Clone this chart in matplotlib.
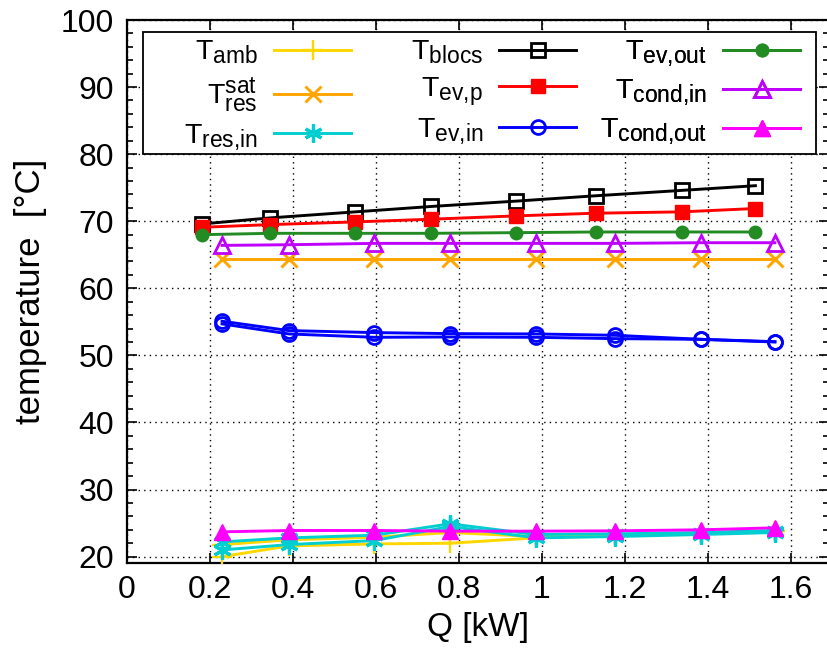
import matplotlib
matplotlib.use("Agg")
import matplotlib.pyplot as plt
from matplotlib.ticker import MultipleLocator
from matplotlib.patches import Rectangle
try:
    import matplotlib._mathtext as _mt
    _mt.SHRINK_FACTOR = 0.8
except Exception:
    pass

plt.rcParams['font.family'] = ['Liberation Sans', 'DejaVu Sans']
plt.rcParams['mathtext.fontset'] = 'custom'
plt.rcParams['mathtext.rm'] = 'Liberation Sans'
plt.rcParams['mathtext.it'] = 'Liberation Sans'
plt.rcParams['mathtext.bf'] = 'Liberation Sans'

# ---- data ----
q_a = [0.182, 0.346, 0.551, 0.733, 0.938, 1.130, 1.337, 1.514]
q_b = [0.230, 0.391, 0.597, 0.779, 0.985, 1.176, 1.382, 1.561]

t_amb_1 = [21.8, 22.5, 22.9, 23.6, 23.0, 23.2, 23.5, 23.8]
t_amb_2 = [20.0, 21.6, 21.9, 22.0, 22.8, 23.1, 23.4, 23.8]
t_res_sat = [64.3, 64.3, 64.3, 64.3, 64.3, 64.3, 64.3, 64.3]
t_res_in_1 = [22.2, 22.8, 23.2, 24.9, 23.3, 23.4, 23.6, 23.9]
t_res_in_2 = [21.0, 21.8, 22.4, 24.5, 22.8, 23.0, 23.3, 23.6]
t_blocs = [69.6, 70.5, 71.4, 72.2, 73.0, 73.8, 74.6, 75.3]
t_ev_p = [69.1, 69.5, 69.9, 70.3, 70.8, 71.2, 71.4, 71.9]
t_ev_in_1 = [55.1, 53.7, 53.4, 53.25, 53.2, 53.0, 52.4, 52.05]
t_ev_in_2 = [54.7, 53.2, 52.7, 52.75, 52.7, 52.5, 52.4, 52.0]
t_ev_out = [68.0, 68.2, 68.2, 68.2, 68.3, 68.4, 68.4, 68.4]
t_cond_in = [66.4, 66.5, 66.7, 66.7, 66.7, 66.7, 66.8, 66.8]
t_cond_out = [23.7, 23.9, 23.9, 23.8, 23.8, 23.85, 24.0, 24.3]

labels = [r'T$_{\mathrm{amb}}$', r'T$^{\mathrm{sat}}_{\mathrm{res}}$', r'T$_{\mathrm{res{,}in}}$',
          r'T$_{\mathrm{blocs}}$', r'T$_{\mathrm{ev{,}p}}$', r'T$_{\mathrm{ev{,}in}}$',
          r'T$_{\mathrm{ev{,}out}}$', r'T$_{\mathrm{cond{,}in}}$', r'T$_{\mathrm{cond{,}out}}$']
xticks = [0, 0.2, 0.4, 0.6, 0.8, 1.0, 1.2, 1.4, 1.6]
xticklabels = ['0', '0.2', '0.4', '0.6', '0.8', '1', '1.2', '1.4', '1.6']
yticks = [20, 30, 40, 50, 60, 70, 80, 90, 100]

FS = 23
LFS = 20.5
fig = plt.figure(figsize=(8.27, 6.49), dpi=100)
AX_L, AX_R, AX_T, AX_B = 126.5, 828.5, 20.0, 562.7
ax = fig.add_axes([AX_L / 827, (649 - AX_B) / 649, (AX_R - AX_L) / 827, (AX_B - AX_T) / 649])


def fx(px):
    return (px - AX_L) / (AX_R - AX_L)


def fy(py):
    return (AX_B - py) / (AX_B - AX_T)


lw = 2.1
mew = 1.7
h = []
h += ax.plot(q_b, t_amb_1, color='#ffd700', lw=lw, marker='+', ms=14, mew=mew, label=labels[0], zorder=3)
ax.plot(q_b, t_amb_2, color='#ffd700', lw=lw, marker='+', ms=14, mew=mew, zorder=3)
h += ax.plot(q_b, t_res_sat, color='#ffa500', lw=lw, marker='x', ms=11, mew=mew + 0.4, label=labels[1], zorder=3)
h += ax.plot(q_b, t_res_in_1, color='#00ced1', lw=lw, marker=(6, 2, 0), ms=13, mew=mew + 0.6, label=labels[2], zorder=3)
ax.plot(q_b, t_res_in_2, color='#00ced1', lw=lw, marker=(6, 2, 0), ms=13, mew=mew + 0.6, zorder=3)
h += ax.plot(q_a, t_blocs, color='black', lw=lw, marker='s', ms=10, mfc='none', mew=mew + 0.3, label=labels[3], zorder=3)
h += ax.plot(q_a, t_ev_p, color='#ff0000', lw=lw, marker='s', ms=10, label=labels[4], zorder=3)
h += ax.plot(q_b, t_ev_in_1, color='#0000ff', lw=lw, marker='o', ms=10, mfc='none', mew=mew + 0.3, label=labels[5], zorder=3)
ax.plot(q_b, t_ev_in_2, color='#0000ff', lw=lw, marker='o', ms=10, mfc='none', mew=mew + 0.3, zorder=3)
h += ax.plot(q_a, t_ev_out, color='#228b22', lw=lw, marker='o', ms=9, label=labels[6], zorder=3)
h += ax.plot(q_b, t_cond_in, color='#c000ff', lw=lw, marker='^', ms=11, mfc='none', mew=mew + 0.3, label=labels[7], zorder=3)
h += ax.plot(q_b, t_cond_out, color='#ff00ff', lw=lw, marker='^', ms=11, label=labels[8], zorder=3)

ax.set_xlim(0, 1.69)
ax.set_ylim(19.1, 100)
ax.set_xticks(xticks)
ax.set_xticklabels(xticklabels)
ax.set_yticks(yticks)
ax.yaxis.set_minor_locator(MultipleLocator(2))
ax.tick_params(which='both', direction='in', top=True, right=True, labelsize=FS, width=1.2)
ax.tick_params(axis='x', pad=9)
ax.tick_params(axis='y', pad=9)
ax.tick_params(which='major', length=7)
ax.tick_params(which='minor', length=4.5)
for s in ax.spines.values():
    s.set_linewidth(1.6)
ax.grid(True, which='major', color='black', linestyle=(0, (1, 3)), linewidth=1.0)
ax.set_axisbelow(True)

ax.set_xlabel('Q [kW]', fontsize=24, labelpad=5)
ax.set_ylabel('temperature  [°C]', fontsize=25, labelpad=10)

# legend frame (gnuplot-style key box)
ax.add_patch(Rectangle((fx(143), fy(154)), fx(816) - fx(143), fy(32) - fy(154),
                       transform=ax.transAxes, facecolor='white', edgecolor='black',
                       linewidth=1.3, zorder=4, clip_on=False))

em = LFS * 100 / 72
col_right = [351, 576, 800]
for c in range(3):
    lg = ax.legend(h[3 * c:3 * c + 3], labels[3 * c:3 * c + 3], loc='upper right',
                   bbox_to_anchor=(fx(col_right[c]), fy(39)), ncol=1, markerfirst=False,
                   fontsize=LFS, frameon=False, handlelength=77 / em, handletextpad=16 / em,
                   labelspacing=0.3, borderpad=0, borderaxespad=0)
    lg.set_zorder(5)
    ax.add_artist(lg)

fig.savefig('out.png', dpi=100)
